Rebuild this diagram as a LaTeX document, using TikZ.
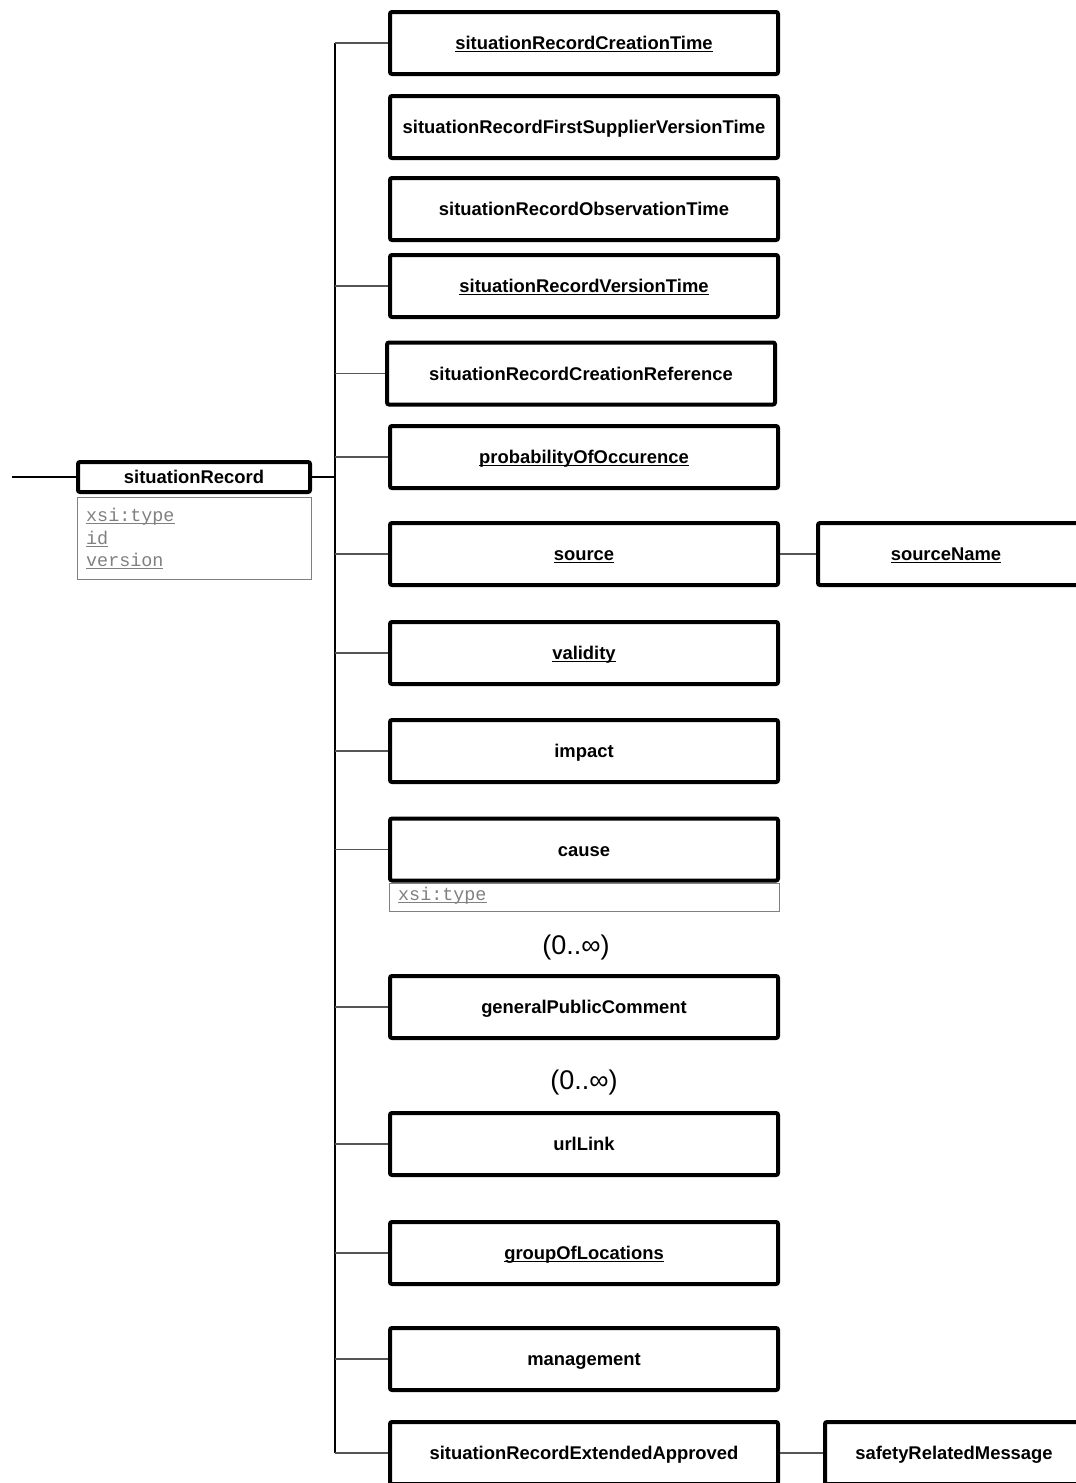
\documentclass[tikz,border=0pt]{standalone}
\usepackage{fontspec}
\setmainfont{Liberation Sans}
\setmonofont{Liberation Mono}
% underline with a fixed rule, scaled for the large labels
\newcommand\ulbox[1]{\setbox0\hbox{#1}\rlap{\rule[-2.8pt]{\wd0}{1.4pt}}\box0}
\newcommand\attrul[1]{\setbox0\hbox{#1}\rlap{\rule[-2.6pt]{\wd0}{1pt}}\box0}
\definecolor{attrgray}{HTML}{808080}
\definecolor{linkgray}{HTML}{555555}
\tikzset{
  elem/.style={draw=black, line width=4pt, rounded corners=2pt, fill=white,
    inner sep=0pt, minimum width=388pt, minimum height=62pt,
    text height=15pt, text depth=2pt,
    font=\bfseries\fontsize{18.4}{22}\selectfont},
  rootelem/.style={elem, minimum width=232pt, minimum height=30pt},
  attrbox/.style={draw=attrgray, line width=1pt},
  attrtext/.style={text=attrgray, inner sep=0pt, anchor=west,
    font=\ttfamily\fontsize{18.4}{22}\selectfont},
  link/.style={draw=linkgray, line width=1.2pt},
  trunkline/.style={draw=black, line width=1.6pt},
  mult/.style={inner sep=0pt, font=\fontsize{27}{31}\selectfont}
}
\begin{document}
\begin{tikzpicture}[x=1pt, y=-1pt]
\path[use as bounding box] (0,0) rectangle (1076,1483);
\clip (0,0) rectangle (1076,1483);

% root element and its attributes
\node[rootelem] (sr) at (194,477) {situationRecord};
\draw[attrbox] (77,497) rectangle (311,579);
\node[attrtext] (a1) at (86,517) {\attrul{xsi:type}};
\node[attrtext] (a2) at (86,539) {\attrul{id}};
\node[attrtext] (a3) at (86,561) {\attrul{version}};

% child elements
\node[elem] (ct)   at (584,43)    {\ulbox{situationRecordCreationTime}};
\node[elem] (fs)   at (584,127)   {situationRecordFirstSupplierVersionTime};
\node[elem] (ot)   at (584,209)   {situationRecordObservationTime};
\node[elem] (vt)   at (584,286)   {\ulbox{situationRecordVersionTime}};
\node[elem] (cr)   at (581,373.5) {situationRecordCreationReference};
\node[elem] (po)   at (584,457)   {\ulbox{probabilityOfOccurence}};
\node[elem] (src)  at (584,554)   {\ulbox{source}};
\node[elem] (val)  at (584,653)   {\ulbox{validity}};
\node[elem] (imp)  at (584,751)   {impact};
\node[elem] (cause) at (584,849.5) {cause};
\node[elem] (gpc)  at (584,1007)  {generalPublicComment};
\node[elem] (url)  at (584,1144)  {urlLink};
\node[elem] (gol)  at (584,1253)  {\ulbox{groupOfLocations}};
\node[elem] (mgmt) at (584,1359)  {management};
\node[elem] (ext)  at (584,1453)  {situationRecordExtendedApproved};

% grandchildren (running past the right edge)
\node[elem, minimum width=272pt] (sn)  at (954,554)  {\ulbox{sourceName}\hspace*{16pt}};
\node[elem, minimum width=264pt] (srm) at (957,1453) {safetyRelatedMessage\hspace*{6pt}};

% cause attribute box
\draw[attrbox] (389,883) rectangle (779,911);
\node[attrtext] (ca) at (398,896) {\attrul{xsi:type}};

% multiplicities
\node[mult] (m1) at (576,948)  {(0..∞)};
\node[mult] (m2) at (584,1082) {(0..∞)};

% connectors
\coordinate (lead)  at (12,477);
\coordinate (trunk) at (335,477);
\draw[line width=1.2pt] (lead) -- (sr.west);
\draw[line width=2pt] (sr.east) -- (sr.east -| trunk);
\draw[trunkline] (ct.west -| trunk) -- (ext.west -| trunk);
\foreach \n in {ct,vt,cr,po,src,val,imp,cause,gpc,url,gol,mgmt,ext}
  \draw[link] (\n.west -| trunk) -- (\n.west);
\draw[link] (src.east) -- (sn.west);
\draw[link] (ext.east) -- (srm.west);
\end{tikzpicture}
\end{document}
